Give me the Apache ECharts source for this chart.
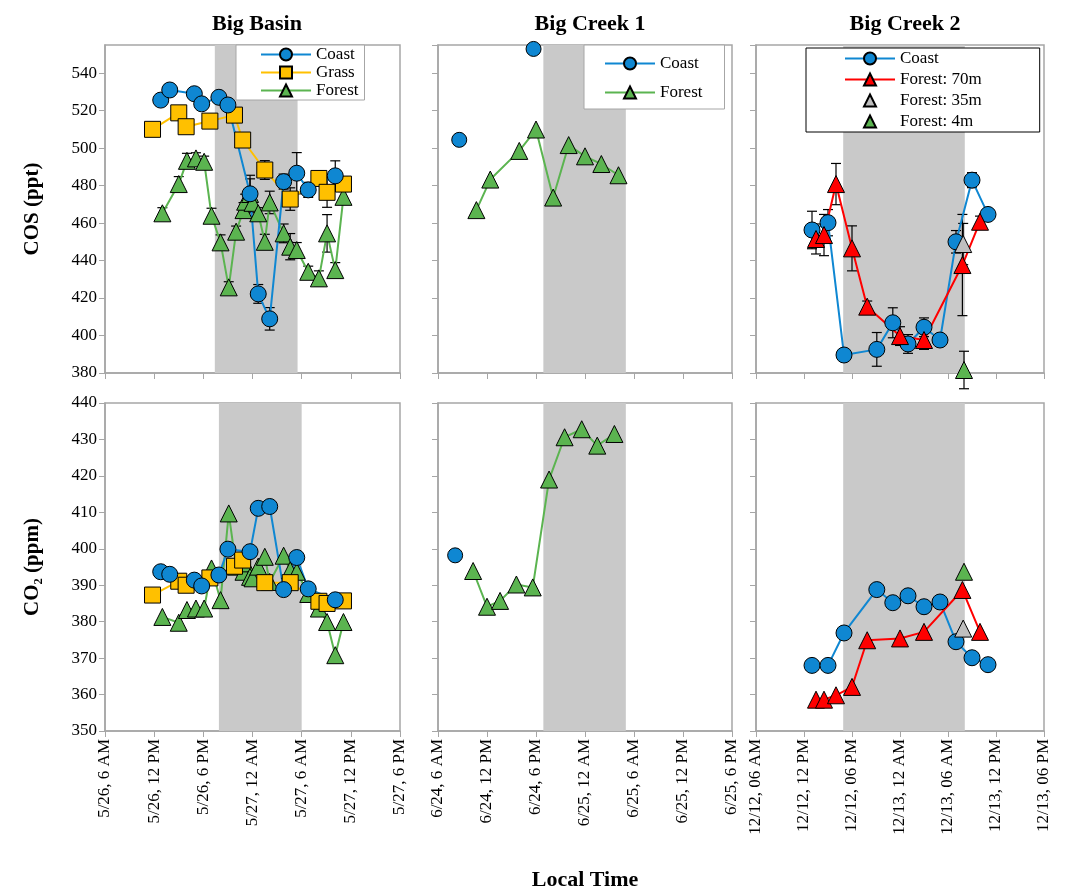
<!DOCTYPE html>
<html>
<head>
<meta charset="utf-8">
<script src="https://cdn.jsdelivr.net/npm/echarts@6/dist/echarts.min.js"></script>
<style>html,body{margin:0;padding:0;background:#fff}</style>
</head>
<body>
<div id="main" style="width:1065px;height:894px;"></div>
<script>
// x values are hours from the left edge of each panel (6 AM on the first day)
var labelsBasin = ['5/26, 6 AM','5/26, 12 PM','5/26, 6 PM','5/27, 12 AM','5/27, 6 AM','5/27, 12 PM','5/27, 6 PM'];
var labelsCreek1 = ['6/24, 6 AM','6/24, 12 PM','6/24, 6 PM','6/25, 12 AM','6/25, 6 AM','6/25, 12 PM','6/25, 6 PM'];
var labelsCreek2 = ['12/12, 06 AM','12/12, 12 PM','12/12, 06 PM','12/13, 12 AM','12/13, 06 AM','12/13, 12 PM','12/13, 06 PM'];

// night shading [start, end] in hours
var nightBasinTop = [13.4, 23.5];
var nightBasinBot = [13.9, 24.0];
var nightCreek1 = [12.9, 23.0];
var nightCreek2 = [10.9, 26.1];

// Big Basin
var bbCoastT = [6.8, 7.9, 10.9, 11.8, 13.9, 15.0, 17.7, 18.7, 20.1, 21.8, 23.4, 24.8, 28.1];
var bbCoastCOS = [525.6, 531, 529, 523.6, 527.1, 523, 475.6, 422.2, 408.9, 482.1, 486.6, 477.7, 485.2];
var bbCoastCOSerr = [0, 0, 0, 0, 0, 0, 8, 5, 6, 4, 11, 4, 8];
var bbCoastCO2 = [393.7, 393.0, 391.4, 389.8, 392.8, 399.9, 399.2, 411.1, 411.6, 388.8, 397.6, 389.0, 386];
var bbGrassT = [5.8, 9.0, 9.9, 12.8, 15.8, 16.8, 19.5, 22.6, 26.1, 27.1, 29.1];
var bbGrassCOS = [510, 518.8, 511.4, 514.4, 517.6, 504.3, 488.3, 472.8, 483.8, 476.4, 480.8];
var bbGrassCOSerr = [0, 0, 0, 0, 0, 0, 5, 6, 4, 8, 4];
var bbGrassCO2 = [387.3, 391.1, 390.0, 392.0, 395.2, 396.9, 390.7, 390.7, 385.6, 385.0, 385.7];
var bbForestT = [7.0, 9.0, 10.0, 11.1, 12.1, 13.0, 14.1, 15.1, 16.0, 16.9, 17.1, 17.7, 18.0, 18.7, 19.5, 20.1, 21.8, 22.6, 23.4, 24.8, 26.1, 27.1, 28.1, 29.1];
var bbForestCOS = [465.2, 480.8, 493.2, 494.5, 492.7, 463.9, 449.7, 425.7, 455.4, 466.9, 471.4, 475.5, 470.8, 465.2, 450.0, 471.0, 454.5, 447.4, 445.6, 434.0, 430.5, 454.5, 434.9, 474.0];
var bbForestCOSerr = [3, 4, 4, 3, 3, 4, 4, 3, 3, 4, 4, 10, 4, 3, 4, 6, 5, 7, 4, 3, 4, 10, 4, 3];
var bbForestCO2 = [381.3, 379.7, 383.2, 383.6, 383.6, 394.6, 385.9, 409.7, 395.1, 393.7, 396.0, 392.3, 391.9, 395.1, 397.8, 390.9, 398.1, 394.1, 393.7, 387.6, 383.6, 379.9, 370.8, 379.9];

// Big Creek 1
var bc1CoastT = [2.6, 11.7];
var bc1CoastCOS = [504.4, 552.9];
var bc1ForestT = [4.7, 6.4, 9.95, 12.0, 14.1, 16.0, 18.0, 20.0, 22.1];
var bc1ForestCOS = [466.9, 483.2, 498.5, 509.9, 473.6, 501.6, 495.6, 491.5, 485.5];
var bc1CoastCO2T = [2.1];
var bc1CoastCO2 = [398.2];
var bc1ForestCO2T = [4.3, 6.0, 7.6, 9.6, 11.6, 13.6, 15.5, 17.6, 19.5, 21.6];
var bc1ForestCO2 = [393.9, 384.1, 385.7, 390.2, 389.4, 419.0, 430.6, 432.8, 428.3, 431.5];

// Big Creek 2
var bc2CoastT = [7.0, 9.0, 11.0, 15.1, 17.1, 19.0, 21.0, 23.0, 25.0, 27.0, 29.0];
var bc2CoastCOS = [456.3, 460.2, 389.6, 392.6, 406.8, 395.5, 404.4, 397.6, 450.0, 482.9, 464.6];
var bc2CoastCOSerr = [10, 7, 0, 9, 8, 5, 5, 0, 6, 4, 0];
var bc2CoastCO2 = [368.0, 368.0, 376.9, 388.8, 385.2, 387.1, 384.1, 385.4, 374.5, 370.1, 368.2];
var bc2F70T = [7.5, 8.5, 10.0, 12.0, 13.9, 18.0, 21.0, 25.8, 28.0];
var bc2F70COS = [451.5, 453.6, 480.8, 446.5, 415.4, 399.7, 397.6, 437.6, 460.7];
var bc2F70COSerr = [8, 11, 11, 12, 3, 5, 5, 27, 3];
var bc2F70CO2 = [358.6, 358.6, 359.8, 362.1, 374.9, 375.4, 377.2, 388.7, 377.2];
var bc2F35T = [25.9];
var bc2F35COS = [448.8];
var bc2F35COSerr = [11];
var bc2F35CO2 = [378.1];
var bc2F4T = [26.0];
var bc2F4COS = [381.6];
var bc2F4COSerr = [10];
var bc2F4CO2 = [393.7];

var cBlue = '#0f87d2', cGold = '#ffc000', cGreen = '#5bb450', cRed = '#ff0000', cGray = '#bfbfbf';
var FONT = 'Liberation Serif';

function pts(t, v) { return t.map(function (x, i) { return [x, v[i]]; }); }
function errs(t, v, e) {
    var out = [];
    t.forEach(function (x, i) { if (e[i] > 0) out.push([x, v[i] - e[i], v[i] + e[i]]); });
    return out;
}

var chart = echarts.init(document.getElementById('main'));

var panels = [
    {left: 105, width: 295, top: 45, height: 328},
    {left: 438, width: 294, top: 45, height: 328},
    {left: 756, width: 288, top: 45, height: 328},
    {left: 105, width: 295, top: 403, height: 328},
    {left: 438, width: 294, top: 403, height: 328},
    {left: 756, width: 288, top: 403, height: 328}
];
var xLabels = [labelsBasin, labelsCreek1, labelsCreek2];
var grids = [], xAxes = [], yAxes = [];
panels.forEach(function (p, i) {
    var bottom = i >= 3;
    grids.push({left: p.left, width: p.width, top: p.top, height: p.height, show: true, borderColor: '#a6a6a6', borderWidth: 1.5});
    var labs = xLabels[i % 3];
    xAxes.push({
        type: 'value', gridIndex: i, min: 0, max: 36, interval: 6,
        axisLine: {lineStyle: {color: '#a6a6a6', width: 1.5}},
        axisTick: {show: true, length: 6, lineStyle: {color: '#a6a6a6'}},
        splitLine: {show: false},
        axisLabel: {
            show: bottom, rotate: 90, fontFamily: FONT, fontSize: 17, color: '#000', margin: 8,
            formatter: function (v) { return labs[Math.round(v / 6)]; }
        }
    });
    yAxes.push({
        type: 'value', gridIndex: i,
        min: bottom ? 350 : 380, max: bottom ? 440 : 555, interval: bottom ? 10 : 20,
        axisLine: {show: true, lineStyle: {color: '#a6a6a6', width: 1.5}},
        axisTick: {show: true, length: 6, lineStyle: {color: '#a6a6a6'}},
        splitLine: {show: false},
        axisLabel: {show: i % 3 === 0, showMaxLabel: bottom, fontFamily: FONT, fontSize: 17, color: '#000'},
        name: i % 3 === 0 ? (bottom ? 'CO₂ (ppm)' : 'COS (ppt)') : '',
        nameLocation: 'middle', nameGap: 62,
        nameTextStyle: {fontFamily: FONT, fontSize: 21, fontWeight: 'bold', color: '#000'}
    });
});

var mk = {borderColor: '#000', borderWidth: 1};
function lineS(name, g, data, color, symbol, size) {
    return {
        name: name, type: 'line', xAxisIndex: g, yAxisIndex: g, data: data, z: 5,
        symbol: symbol, symbolSize: size || 16, lineStyle: {color: color, width: 2},
        itemStyle: Object.assign({color: color}, mk)
    };
}
// markers only: a line series with a hidden line keeps the legend icon small
function dotS(name, g, data, color, symbol, size) {
    var s = lineS(name, g, data, color, symbol, size);
    s.lineStyle = {width: 0, opacity: 0};
    return s;
}
function errS(g, data) {
    return {
        type: 'custom', xAxisIndex: g, yAxisIndex: g, data: data, z: 3, silent: true,
        renderItem: function (params, api) {
            var lo = api.coord([api.value(0), api.value(1)]);
            var hi = api.coord([api.value(0), api.value(2)]);
            var w = 5, st = {stroke: '#000', lineWidth: 1.2};
            return {type: 'group', children: [
                {type: 'line', shape: {x1: lo[0], y1: lo[1], x2: hi[0], y2: hi[1]}, style: st},
                {type: 'line', shape: {x1: lo[0] - w, y1: lo[1], x2: lo[0] + w, y2: lo[1]}, style: st},
                {type: 'line', shape: {x1: hi[0] - w, y1: hi[1], x2: hi[0] + w, y2: hi[1]}, style: st}
            ]};
        }
    };
}
function nightS(g, range) {
    return {
        type: 'line', xAxisIndex: g, yAxisIndex: g, data: [], silent: true, z: 1,
        markArea: {silent: true, itemStyle: {color: '#c9c9c9'}, data: [[{xAxis: range[0]}, {xAxis: range[1]}]]}
    };
}

var series = [
    nightS(0, nightBasinTop), nightS(1, nightCreek1), nightS(2, nightCreek2),
    nightS(3, nightBasinBot), nightS(4, nightCreek1), nightS(5, nightCreek2),
    errS(0, errs(bbCoastT, bbCoastCOS, bbCoastCOSerr)),
    errS(0, errs(bbGrassT, bbGrassCOS, bbGrassCOSerr)),
    errS(0, errs(bbForestT, bbForestCOS, bbForestCOSerr)),
    errS(2, errs(bc2CoastT, bc2CoastCOS, bc2CoastCOSerr)),
    errS(2, errs(bc2F70T, bc2F70COS, bc2F70COSerr)),
    errS(2, errs(bc2F35T, bc2F35COS, bc2F35COSerr)),
    errS(2, errs(bc2F4T, bc2F4COS, bc2F4COSerr)),

    lineS('Forest', 0, pts(bbForestT, bbForestCOS), cGreen, 'triangle', 17),
    lineS('Grass', 0, pts(bbGrassT, bbGrassCOS), cGold, 'rect', 16),
    lineS('Coast', 0, pts(bbCoastT, bbCoastCOS), cBlue, 'circle', 16),
    lineS('Forest', 3, pts(bbForestT, bbForestCO2), cGreen, 'triangle', 17),
    lineS('Grass', 3, pts(bbGrassT, bbGrassCO2), cGold, 'rect', 16),
    lineS('Coast', 3, pts(bbCoastT, bbCoastCO2), cBlue, 'circle', 16),

    dotS('Coast', 1, pts(bc1CoastT, bc1CoastCOS), cBlue, 'circle', 15),
    lineS('Forest', 1, pts(bc1ForestT, bc1ForestCOS), cGreen, 'triangle', 17),
    dotS('Coast', 4, pts(bc1CoastCO2T, bc1CoastCO2), cBlue, 'circle', 15),
    lineS('Forest', 4, pts(bc1ForestCO2T, bc1ForestCO2), cGreen, 'triangle', 17),

    lineS('Coast', 2, pts(bc2CoastT, bc2CoastCOS), cBlue, 'circle', 16),
    lineS('Forest: 70m', 2, pts(bc2F70T, bc2F70COS), cRed, 'triangle', 17),
    dotS('Forest: 35m', 2, pts(bc2F35T, bc2F35COS), cGray, 'triangle', 17),
    dotS('Forest: 4m', 2, pts(bc2F4T, bc2F4COS), cGreen, 'triangle', 17),
    lineS('Coast', 5, pts(bc2CoastT, bc2CoastCO2), cBlue, 'circle', 16),
    lineS('Forest: 70m', 5, pts(bc2F70T, bc2F70CO2), cRed, 'triangle', 17),
    dotS('Forest: 35m', 5, pts(bc2F35T, bc2F35CO2), cGray, 'triangle', 17),
    dotS('Forest: 4m', 5, pts(bc2F4T, bc2F4CO2), cGreen, 'triangle', 17)
];
// legend entries must come only from the top panels
series.forEach(function (s) { if (s.xAxisIndex >= 3 && s.name) s.name = s.name + ' '; });

var legText = {fontFamily: FONT, fontSize: 17, color: '#000'};
var option = {
    animation: false,
    title: [
        {text: 'Big Basin', left: 252, top: 8, textAlign: 'center'},
        {text: 'Big Creek 1', left: 585, top: 8, textAlign: 'center'},
        {text: 'Big Creek 2', left: 900, top: 8, textAlign: 'center'},
        {text: 'Local Time', left: 580, top: 864, textAlign: 'center'}
    ].map(function (t) {
        t.textStyle = {fontFamily: FONT, fontSize: 22, fontWeight: 'bold', color: '#000'};
        return t;
    }),
    legend: [
        {data: ['Coast', 'Grass', 'Forest'], orient: 'vertical', left: 236, top: 45, itemGap: 1,
         itemWidth: 50, itemHeight: 15, padding: [1, 6, 1, 24], borderColor: '#a6a6a6', borderWidth: 1,
         backgroundColor: '#fff', textStyle: legText, selectedMode: false},
        {data: ['Coast', 'Forest'], orient: 'vertical', left: 584, top: 45, itemGap: 12,
         itemWidth: 50, itemHeight: 15, padding: [10, 22, 8, 20], borderColor: '#a6a6a6', borderWidth: 1,
         backgroundColor: '#fff', textStyle: legText, selectedMode: false},
        {data: ['Coast', 'Forest: 70m', 'Forest: 35m', 'Forest: 4m'], orient: 'vertical', left: 806, top: 48,
         itemGap: 4, itemWidth: 50, itemHeight: 15, padding: [2, 58, 2, 38], borderColor: '#000', borderWidth: 1,
         backgroundColor: '#fff', textStyle: legText, selectedMode: false}
    ],
    grid: grids,
    xAxis: xAxes,
    yAxis: yAxes,
    series: series
};
chart.setOption(option);
</script>
</body>
</html>
